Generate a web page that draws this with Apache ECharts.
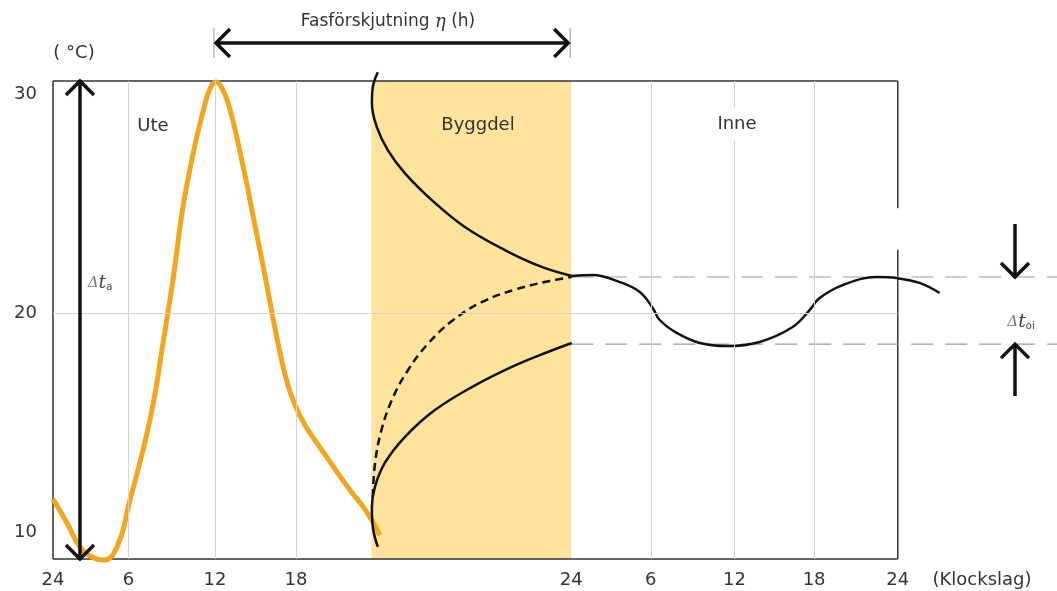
<!DOCTYPE html>
<html>
<head>
<meta charset="utf-8">
<script src="https://cdn.jsdelivr.net/npm/echarts@6/dist/echarts.min.js"></script>
<style>
html, body { margin: 0; padding: 0; background: #fff; }
#main { width: 1057px; height: 591px; }
</style>
</head>
<body>
<div id="main"></div>
<script>
// x = timmar längs axeln: dygnet "Ute" 0..24, byggdelen, sedan dygnet "Inne"
var tickPos  = [0, 5.6, 12, 18, 38.4, 44.3, 50.5, 56.4, 62.6];
var tickText = ['24', '6', '12', '18', '24', '6', '12', '18', '24'];
var gridX    = [5.6, 12, 18, 44.3, 50.5, 56.4];
var yTicks   = [10, 20, 30];
var band     = [23.6, 38.4];   // Byggdel

// utetemperatur (orange)
var ute = [[0,11.54],[1.04,10.44],[2.0,9.35],[2.89,8.89],[3.7,8.75],[4.74,9.35],[5.7,11.49],
    [6.67,13.77],[7.48,16.05],[8.07,18.33],[8.52,20.06],[8.89,21.52],[9.19,22.89],[9.48,24.26],
    [9.85,25.63],[10.52,27.68],[11.11,29.18],[11.63,30.23],[12.07,30.55],[12.52,30.28],
    [13.04,29.46],[13.63,28.0],[14.3,26.08],[14.96,24.03],[15.63,21.98],[16.22,20.06],
    [16.81,18.24],[17.41,16.73],[18.0,15.73],[18.67,14.91],[19.56,14.09],[20.74,13.04],
    [22.0,11.95],[23.26,10.94],[24.22,9.89]];

// kurvor genom byggdelen
var byggUpper = [[24.07,31.0],[23.7,30.32],[23.63,29.59],[24.0,28.5],[24.81,27.45],[26.07,26.4],
    [28.07,25.17],[30.52,23.94],[33.48,22.89],[36.22,22.12],[38.44,21.71]];
var byggDash = [[23.7,11.63],[23.85,13.09],[24.3,14.59],[25.11,16.05],[26.22,17.33],[27.7,18.56],
    [29.56,19.65],[31.78,20.52],[34.37,21.11],[36.81,21.48],[38.44,21.66]];
var byggLower = [[24.07,9.35],[23.7,10.26],[23.63,11.17],[23.85,12.08],[24.59,13.18],[26.07,14.36],
    [28.3,15.59],[31.04,16.64],[34.0,17.56],[36.67,18.24],[38.44,18.65]];

// innetemperatur
var inne = [[38.44,21.71],[40.0,21.75],[42.0,21.43],[43.48,20.98],[44.44,20.25],[44.96,19.7],
    [46.22,19.11],[47.93,18.65],[49.93,18.51],[52.37,18.7],[54.81,19.38],[56.07,20.15],
    [56.81,20.7],[58.52,21.29],[61.04,21.66],[62.52,21.61],[64.22,21.39],[65.7,20.93]];

var toiMax = 21.66, toiMin = 18.6;
var xMax = 62.6, yMin = 8.8, yMax = 30.6;
var xFar = 74.4;   // högra bildkanten
var gap = [22.9, 24.8];   // glapp i högra ramen

var font = '"DejaVu Sans", sans-serif';
var black = '#111';

var dom = document.getElementById('main');
var myChart = echarts.init(dom);

var option = {
    animation: false,
    grid: { left: 53, right: 0, top: 81, bottom: 32 },
    xAxis: {
        type: 'value', min: 0, max: xFar,
        splitLine: { show: false },
        axisTick: { show: false },
        axisLine: { show: false },
        axisLabel: {
            customValues: tickPos,
            margin: 12,
            fontSize: 18, color: '#333', fontFamily: font,
            formatter: function (v) {
                var i = tickPos.indexOf(v);
                return i >= 0 ? tickText[i] : '';
            }
        }
    },
    yAxis: {
        type: 'value', min: yMin, max: yMax,
        splitLine: { show: false },
        axisTick: { show: false },
        axisLine: { show: false },
        axisLabel: {
            customValues: yTicks,
            margin: 16,
            fontSize: 18, color: '#333', fontFamily: font
        }
    },
    series: [
        {
            name: 'bakgrund', type: 'line', data: [], silent: true,
            markArea: {
                silent: true,
                itemStyle: { color: '#FDE39C' },
                data: [[{ xAxis: band[0] }, { xAxis: band[1] }]]
            },
            markLine: {
                silent: true, symbol: 'none', label: { show: false },
                lineStyle: { color: '#d2d2d2', width: 1, type: 'solid' },
                data: gridX.map(function (x) { return { xAxis: x }; })
                    .concat([[{ coord: [0, 20] }, { coord: [xMax, 20] }]])
            }
        },
        {
            name: 'toiMax', type: 'line', showSymbol: false, silent: true,
            lineStyle: { color: '#9a9a9a', width: 1.2, type: [22, 12] },
            data: [[band[1], toiMax], [xFar, toiMax]]
        },
        {
            name: 'toiMin', type: 'line', showSymbol: false, silent: true,
            lineStyle: { color: '#9a9a9a', width: 1.2, type: [22, 12] },
            data: [[band[1], toiMin], [xFar, toiMin]]
        },
        {
            name: 'Ute', type: 'line', smooth: 0.5, clip: false, showSymbol: false,
            lineStyle: { color: '#F0A61E', width: 5 },
            data: ute
        },
        {
            name: 'byggUpper', type: 'line', smooth: 0.4, clip: false, showSymbol: false,
            lineStyle: { color: black, width: 2.5 },
            data: byggUpper
        },
        {
            name: 'byggDash', type: 'line', smooth: 0.4, clip: false, showSymbol: false,
            lineStyle: { color: black, width: 2.5, type: [8, 5] },
            data: byggDash
        },
        {
            name: 'byggLower', type: 'line', smooth: 0.4, clip: false, showSymbol: false,
            lineStyle: { color: black, width: 2.5 },
            data: byggLower
        },
        {
            name: 'Inne', type: 'line', smooth: 0.4, clip: false, showSymbol: false,
            lineStyle: { color: black, width: 2.5 },
            data: inne
        }
    ]
};

myChart.setOption(option, true);

// ram, pilar och texter
function px(x, y) { return myChart.convertToPixel({ gridIndex: 0 }, [x, y]); }

function seg(a, b, color, w, z) {
    return { type: 'line', z: z, shape: { x1: a[0], y1: a[1], x2: b[0], y2: b[1] },
        style: { stroke: color, lineWidth: w } };
}
function head(tx, ty, dx, dy, s, w) {
    // öppen pilspets mot (tx, ty), riktning (dx, dy)
    var nx = -dy, ny = dx;
    return { type: 'polyline', z: 50,
        shape: { points: [[tx - s * dx + s * nx, ty - s * dy + s * ny], [tx, ty],
                          [tx - s * dx - s * nx, ty - s * dy - s * ny]] },
        style: { stroke: black, lineWidth: w, fill: null } };
}
function text(x, y, str, extra) {
    var st = { text: str, fill: '#333', font: '18px ' + font,
        align: 'center', verticalAlign: 'middle' };
    for (var k in extra) st[k] = extra[k];
    return { type: 'text', z: 60, x: x, y: y, style: st };
}

var c00 = px(0, yMin), c01 = px(0, yMax), c10 = px(xMax, yMin), c11 = px(xMax, yMax);
var pTop = px(2.0, yMax), pBot = px(2.0, yMin);
var pPeak = px(12, yMax), pBand = px(band[1], yMax);
var pMax = px(xMax, toiMax), pMin = px(xMax, toiMin);
var aw = 3.5, hs = 14;
var yArr = 43, xRight = 1015;
var frame = '#333';

var graphic = [
    // ram med glapp till höger
    seg(c00, c10, frame, 1.5, 1),
    seg(c00, c01, frame, 1.5, 1),
    seg(c01, c11, frame, 1.5, 1),
    seg(c11, px(xMax, gap[1]), frame, 1.5, 1),
    seg(px(xMax, gap[0]), c10, frame, 1.5, 1),
    // Δt_a
    seg([pTop[0], pTop[1] + 1], [pBot[0], pBot[1] - 1], black, aw, 50),
    head(pTop[0], pTop[1], 0, -1, hs, aw),
    head(pBot[0], pBot[1], 0, 1, hs, aw),
    // fasförskjutning
    seg([pPeak[0] - 1, yArr - 15], [pPeak[0] - 1, yArr + 15], '#999', 1, 50),
    seg([pBand[0] - 1, yArr - 15], [pBand[0] - 1, yArr + 15], '#999', 1, 50),
    seg([pPeak[0] + 1, yArr], [pBand[0] - 3, yArr], black, aw, 50),
    head(pPeak[0] + 1, yArr, -1, 0, hs, aw),
    head(pBand[0] - 3, yArr, 1, 0, hs, aw),
    // Δt_oi
    seg([xRight, 224], [xRight, pMax[1] - 1], black, aw, 50),
    head(xRight, pMax[1], 0, 1, hs, aw),
    seg([xRight, 396], [xRight, pMin[1] + 1], black, aw, 50),
    head(xRight, pMin[1], 0, -1, hs, aw),
    // texter
    text(74, 53, '( °C)'),
    text(982, 580, '(Klockslag)'),
    text(388, 22, '{n|Fasförskjutning }{e|η}{n| (h)}', {
        rich: { n: { fontSize: 17, fontFamily: font, fill: '#333' },
                e: { fontSize: 18, fontFamily: 'DejaVu Serif', fontStyle: 'italic', fill: '#333' } } }),
    text(153, 126, 'Ute'),
    text(478, 125, 'Byggdel'),
    text(737, 124, 'Inne', { backgroundColor: '#fff', padding: [8, 2] }),
    text(100, 283, '{d|Δ}{t|t}{s|a}', {
        rich: { d: { fontSize: 15, fontStyle: 'italic', fill: '#777', fontFamily: 'DejaVu Serif' },
                t: { fontSize: 19, fontStyle: 'italic', fill: '#444', fontFamily: 'DejaVu Serif' },
                s: { fontSize: 10, fill: '#444', fontFamily: font, padding: [9, 0, 0, 0] } } }),
    text(1021, 322, '{d|Δ}{t|t}{s|oi}', {
        rich: { d: { fontSize: 15, fontStyle: 'italic', fill: '#777', fontFamily: 'DejaVu Serif' },
                t: { fontSize: 19, fontStyle: 'italic', fill: '#444', fontFamily: 'DejaVu Serif' },
                s: { fontSize: 10, fill: '#444', fontFamily: font, padding: [9, 0, 0, 0] } } })
];

myChart.setOption({ graphic: graphic });

window.onresize = function () { myChart.resize(); };
</script>
</body>
</html>
